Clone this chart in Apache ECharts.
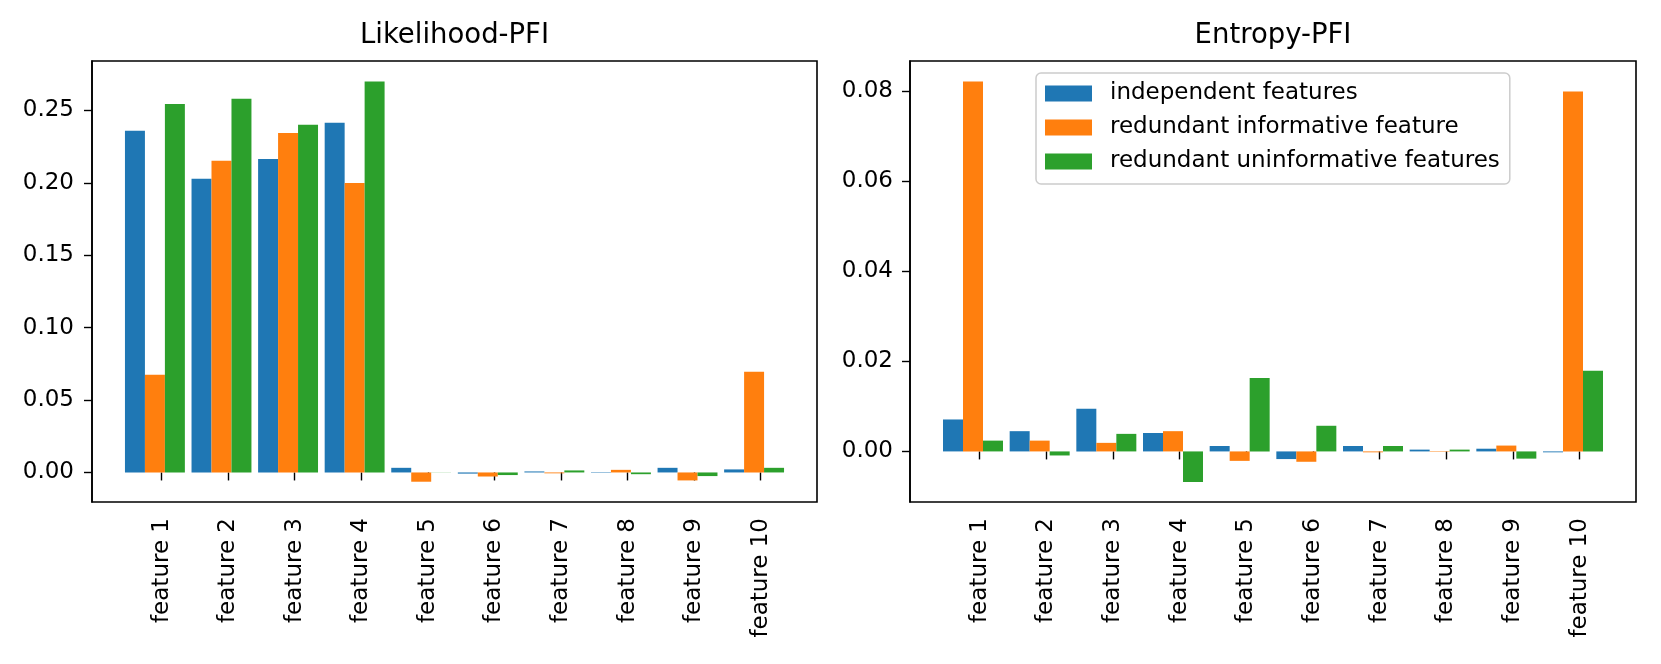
<!DOCTYPE html>
<html>
<head>
<meta charset="utf-8">
<script src="https://cdn.jsdelivr.net/npm/echarts@6/dist/echarts.min.js"></script>
<style>html,body{margin:0;padding:0;background:#fff;}#c{width:1661px;height:664px;}</style>
</head>
<body>
<div id="c"></div>
<script>
const categories = ['feature 1','feature 2','feature 3','feature 4','feature 5','feature 6','feature 7','feature 8','feature 9','feature 10'];
const seriesNames = ['independent features','redundant informative feature','redundant uninformative features'];
const colors = ['#1f77b4','#ff7f0e','#2ca02c'];

const likIndependent   = [0.2360, 0.2028, 0.2164, 0.2415, 0.0032, -0.0008, 0.0007, 0.0003, 0.0032, 0.0021];
const likRedInform     = [0.0675, 0.2153, 0.2344, 0.1998, -0.0064, -0.0028, -0.0006, 0.0018, -0.0055, 0.0695];
const likRedUninform   = [0.2544, 0.2581, 0.2401, 0.2700, 0.0001, -0.0018, 0.0014, -0.0012, -0.0025, 0.0032];

const entIndependent   = [0.0071, 0.0045, 0.0095, 0.0041, 0.0012, -0.0017, 0.0012, 0.0004, 0.0006, -0.0002];
const entRedInform     = [0.0822, 0.0024, 0.0019, 0.0045, -0.0021, -0.0023, -0.0002, -0.0001, 0.0013, 0.0800];
const entRedUninform   = [0.0024, -0.0009, 0.0039, -0.0068, 0.0163, 0.0057, 0.0012, 0.0004, -0.0016, 0.0179];

const likTicks = [0, 0.05, 0.10, 0.15, 0.20, 0.25];
const entTicks = [0, 0.02, 0.04, 0.06, 0.08];

const font = 'DejaVu Sans';
const panels = [
  {title:'Likelihood-PFI', left:92, right:817, min:-0.0204, max:0.2841, ticks:likTicks, data:[likIndependent, likRedInform, likRedUninform], labelMargin:18},
  {title:'Entropy-PFI', left:910, right:1636, min:-0.01124, max:0.08676, ticks:entTicks, data:[entIndependent, entRedInform, entRedUninform], labelMargin:17}
];
const gTop = 61, gBottom = 502;
const grids = [], xAxes = [], yAxes = [], series = [], titles = [];

panels.forEach((p, pi) => {
  const unit = (p.right - p.left) / (9 + 1.045 + 0.845);
  const firstTick = p.left + 1.045 * unit;
  const bandW = 10 * unit;
  const gFrame = grids.length;
  grids.push({left:p.left, width:p.right - p.left, top:gTop, height:gBottom - gTop, show:true, borderColor:'#000', borderWidth:1.6, backgroundColor:'transparent'});
  xAxes.push({gridIndex:gFrame, type:'category', data:categories, show:false});
  yAxes.push({gridIndex:gFrame, type:'value', min:p.min, max:p.max, splitLine:{show:false},
    axisLine:{show:true, lineStyle:{color:'#000', width:1.6}},
    axisTick:{show:true, length:8, lineStyle:{color:'#000', width:1.4}, customValues:p.ticks},
    axisLabel:{color:'#000', fontFamily:font, fontSize:23, margin:p.labelMargin, customValues:p.ticks,
      formatter:v => v.toFixed(2)}});
  const gBar = grids.length;
  grids.push({left:firstTick - 0.1*unit - 0.5*unit, width:bandW, top:gTop, height:gBottom - gTop});
  xAxes.push({gridIndex:gBar, type:'category', data:categories, show:false});
  yAxes.push({gridIndex:gBar, type:'value', min:p.min, max:p.max, show:false, splitLine:{show:false}});
  const gLab = grids.length;
  grids.push({left:firstTick - 0.5*unit, width:bandW, top:gTop, height:gBottom - gTop});
  xAxes.push({gridIndex:gLab, type:'category', data:categories, position:'bottom',
    axisLine:{show:false},
    axisTick:{show:true, alignWithLabel:true, length:8, lineStyle:{color:'#000', width:1.4}},
    axisLabel:{rotate:90, color:'#000', fontFamily:font, fontSize:23, margin:16, interval:0}});
  yAxes.push({gridIndex:gLab, type:'value', min:p.min, max:p.max, show:false, splitLine:{show:false}});

  p.data.forEach((vals, si) => {
    series.push({type:'bar', name:seriesNames[si], xAxisIndex:gBar, yAxisIndex:gBar, data:vals,
      barWidth:'30%', barGap:'0%', itemStyle:{color:colors[si]}, animation:false});
  });
  titles.push({text:p.title, left:(p.left + p.right)/2, top:22, textAlign:'center', padding:0,
    textStyle:{fontFamily:font, fontSize:27.5, fontWeight:'normal', color:'#000'}});
});

const chart = echarts.init(document.getElementById('c'), null, {renderer:'canvas'});
chart.setOption({
  animation:false,
  backgroundColor:'#fff',
  title:titles,
  grid:grids, xAxis:xAxes, yAxis:yAxes, series:series,
  legend:{orient:'vertical', left:1036, top:73, data:seriesNames,
    backgroundColor:'rgba(255,255,255,0.8)', borderColor:'#cccccc', borderWidth:1.5, borderRadius:5,
    padding:[9, 10, 11, 9], itemWidth:47, itemHeight:16, itemGap:11, icon:'rect',
    selectedMode:false,
    textStyle:{fontFamily:font, fontSize:23, color:'#000', padding:[0,0,0,13]}}
});
</script>
</body>
</html>
